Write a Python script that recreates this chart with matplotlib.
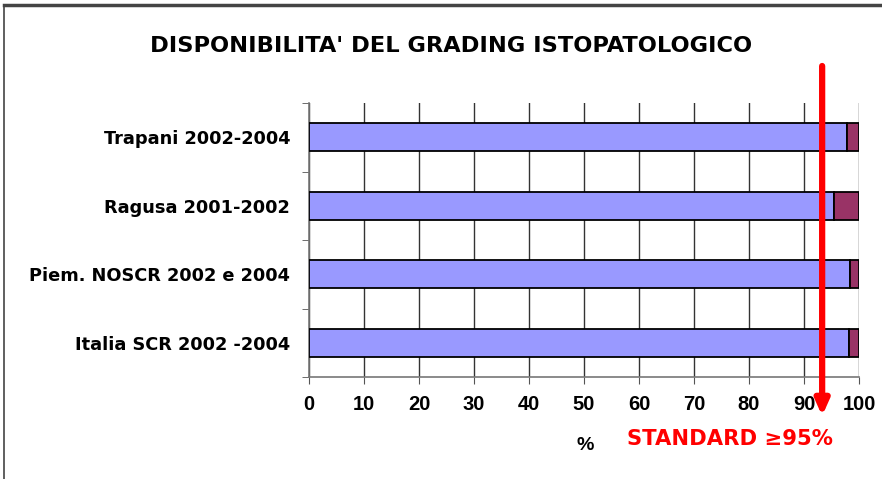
import matplotlib
matplotlib.use("Agg")
import matplotlib.pyplot as plt
import matplotlib.transforms as mtransforms

categories = ["Italia SCR 2002 -2004", "Piem. NOSCR 2002 e 2004", "Ragusa 2001-2002", "Trapani 2002-2004"]
available = [98.1, 98.4, 95.5, 97.8]
missing = [100 - v for v in available]
xticks = [0, 10, 20, 30, 40, 50, 60, 70, 80, 90, 100]
standard_x = 93.3

fig = plt.figure(figsize=(8.82, 4.79), dpi=100)
ax = fig.add_axes([309/882, 1-377/479, 550/882, 274/479])

ypos = list(range(len(categories)))
ax.barh(ypos, available, height=0.41, color="#9999FF", edgecolor="black", linewidth=1.3, zorder=3)
ax.barh(ypos, missing, left=available, height=0.41, color="#993366", edgecolor="black", linewidth=1.3, zorder=3)

ax.set_xlim(0, 100)
ax.set_ylim(-0.5, len(categories) - 0.5)
ax.set_xticks(xticks)
ax.set_xticklabels([str(t) for t in xticks], fontfamily="Liberation Sans", fontweight="bold", fontsize=14.5)
ax.set_yticks(ypos)
ax.set_yticklabels(categories, fontfamily="DejaVu Sans", fontweight="bold", fontsize=12.8)
ax.tick_params(axis="y", length=0, pad=13.5)
ax.set_yticks([y + 0.5 for y in [-1] + ypos], minor=True)
ax.tick_params(axis="y", which="minor", length=5, color="#555555", direction="out")
ax.tick_params(axis="x", length=5, color="#555555", pad=8)
ax.xaxis.grid(True, color="#333333", linewidth=1, zorder=0)
for s in ["top", "right"]:
    ax.spines[s].set_visible(False)
for s in ["left", "bottom"]:
    ax.spines[s].set_color("#777777")
    ax.spines[s].set_linewidth(1.2)

fig.text(451/882, 1-46/479, "DISPONIBILITA' DEL GRADING ISTOPATOLOGICO", ha="center", va="center",
         fontfamily="DejaVu Sans", fontweight="bold", fontsize=16.2)
fig.text(585/882, 1-446/479, "%", ha="center", va="center",
         fontfamily="Liberation Sans", fontweight="bold", fontsize=14)
fig.text(730/882, 1-439/479, "STANDARD \u226595%", ha="center", va="center", color="#FF0000",
         fontfamily="DejaVu Sans", fontweight="bold", fontsize=15.2)

trans = mtransforms.blended_transform_factory(ax.transData, fig.transFigure)
ax.annotate("", xy=(standard_x, 1-416/479), xycoords=trans,
            xytext=(standard_x, 1-66/479), textcoords=trans,
            arrowprops=dict(arrowstyle="-|>,head_length=0.9,head_width=0.4", color="#FF0000", lw=4.5,
                            shrinkA=0, shrinkB=0),
            annotation_clip=False, zorder=5)

# figure border (top and left)
fig.add_artist(plt.Line2D([4/882, 1], [1-5/479, 1-5/479], transform=fig.transFigure, color="#444444", lw=2.5))
fig.add_artist(plt.Line2D([4/882, 4/882], [0, 1-5/479], transform=fig.transFigure, color="#444444", lw=1.2))

fig.savefig("out.png", dpi=100)
